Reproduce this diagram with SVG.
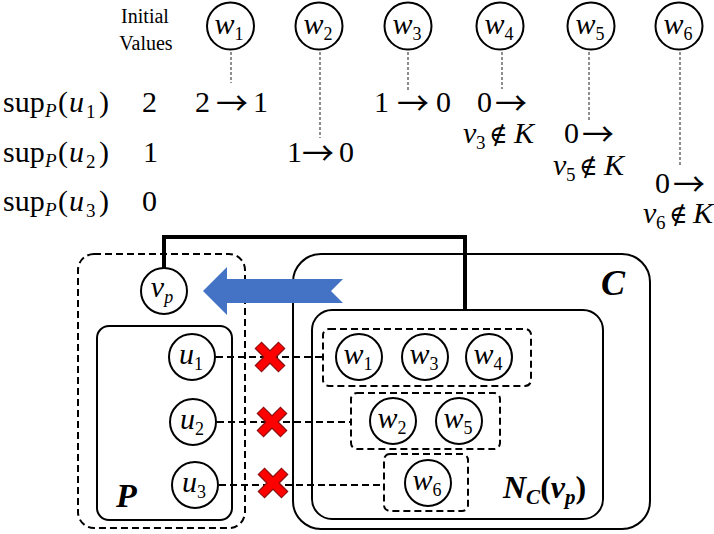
<svg xmlns="http://www.w3.org/2000/svg" width="714" height="534" viewBox="0 0 714 534">
<style>
.t{font-family:"Liberation Serif","DejaVu Serif",serif;fill:#000}
.i{font-style:italic}
.b{font-weight:bold}
.big{font-size:30px}
.sub{font-size:19px}
.ar{font-family:"Noto Sans CJK SC","Noto Sans CJK JP","DejaVu Sans",sans-serif;font-size:32px}
.nin{font-family:"DejaVu Serif",serif;font-size:25px}
.node{fill:#fff;stroke:#000;stroke-width:2}
.lbl{font-family:"Liberation Serif","DejaVu Serif",serif;font-style:italic;font-size:30px;text-anchor:middle}
.lsub{font-size:18px;font-style:normal}
.vdash{stroke:#444;stroke-width:1.2;stroke-dasharray:3,2;fill:none}
.hdash{stroke:#000;stroke-width:2;stroke-dasharray:7,4;fill:none}
.box{fill:none;stroke:#000;stroke-width:2}
.dbox{fill:none;stroke:#000;stroke-width:2;stroke-dasharray:7,4}
</style>

<!-- headers -->
<text class="t" x="145" y="23" font-size="20" text-anchor="middle" fill="#222">Initial</text>
<text class="t" x="146" y="50" font-size="20" text-anchor="middle" fill="#222">Values</text>

<!-- sup rows -->
<g id="row1">
<text class="t big" x="3" y="112">sup</text>
<text class="t sub i" x="45" y="117">P</text>
<text class="t big" x="58" y="112">(</text>
<text class="t big i" x="69" y="112">u</text>
<text class="t sub" x="86" y="118">1</text>
<text class="t big" x="99" y="112">)</text>
<text class="t big" x="142" y="112">2</text>
</g>
<g id="row2">
<text class="t big" x="3" y="162">sup</text>
<text class="t sub i" x="45" y="167">P</text>
<text class="t big" x="58" y="162">(</text>
<text class="t big i" x="69" y="162">u</text>
<text class="t sub" x="86" y="168">2</text>
<text class="t big" x="99" y="162">)</text>
<text class="t big" x="143" y="162">1</text>
</g>
<g id="row3">
<text class="t big" x="3" y="211">sup</text>
<text class="t sub i" x="45" y="216">P</text>
<text class="t big" x="58" y="211">(</text>
<text class="t big i" x="69" y="211">u</text>
<text class="t sub" x="86" y="217">3</text>
<text class="t big" x="99" y="211">)</text>
<text class="t big" x="142" y="211">0</text>
</g>

<!-- top circles -->
<g id="tw1"><circle class="node" cx="230.5" cy="26" r="23.5"/><text class="lbl" x="229" y="34">w<tspan class="lsub" dy="6">1</tspan></text></g>
<g id="tw2"><circle class="node" cx="319" cy="26" r="23.5"/><text class="lbl" x="318" y="34">w<tspan class="lsub" dy="6">2</tspan></text></g>
<g id="tw3"><circle class="node" cx="408" cy="26" r="23.5"/><text class="lbl" x="407" y="34">w<tspan class="lsub" dy="6">3</tspan></text></g>
<g id="tw4"><circle class="node" cx="500" cy="26" r="23.5"/><text class="lbl" x="499" y="34">w<tspan class="lsub" dy="6">4</tspan></text></g>
<g id="tw5"><circle class="node" cx="591" cy="26" r="23.5"/><text class="lbl" x="590" y="34">w<tspan class="lsub" dy="6">5</tspan></text></g>
<g id="tw6"><circle class="node" cx="679" cy="26" r="23.5"/><text class="lbl" x="678" y="34">w<tspan class="lsub" dy="6">6</tspan></text></g>

<g id="topconnectors">
<line class="vdash" x1="231" y1="52" x2="231" y2="83"/>
<line class="vdash" x1="320" y1="52" x2="320" y2="138"/>
<line class="vdash" x1="408" y1="52" x2="408" y2="90"/>
<line class="vdash" x1="502" y1="52" x2="502" y2="89"/>
<line class="vdash" x1="589" y1="52" x2="589" y2="122"/>
<line class="vdash" x1="680" y1="52" x2="680" y2="166"/>
</g>

<!-- transitions -->
<g id="t1"><text class="t big" y="112"><tspan x="195">2</tspan><tspan class="ar" x="216" dy="3">→</tspan><tspan x="253" dy="-3">1</tspan></text></g>
<g id="t2"><text class="t big" y="162"><tspan x="287">1</tspan><tspan class="ar" x="302" dy="3">→</tspan><tspan x="339" dy="-3">0</tspan></text></g>
<g id="t3"><text class="t big" y="112"><tspan x="374">1</tspan><tspan class="ar" x="397" dy="3">→</tspan><tspan x="436" dy="-3">0</tspan></text></g>
<g id="t4">
<text class="t big" y="112"><tspan x="477">0</tspan><tspan class="ar" x="495" dy="3">→</tspan></text>
<text class="t big" y="143"><tspan class="i" x="463">v</tspan><tspan class="sub" x="476" dy="6">3</tspan><tspan class="nin" x="489" dy="-6">∉</tspan><tspan class="i" x="514">K</tspan></text>
</g>
<g id="t5">
<text class="t big" y="143"><tspan x="564">0</tspan><tspan class="ar" x="582" dy="3">→</tspan></text>
<text class="t big" y="175"><tspan class="i" x="553">v</tspan><tspan class="sub" x="566" dy="6">5</tspan><tspan class="nin" x="579" dy="-6">∉</tspan><tspan class="i" x="604">K</tspan></text>
</g>
<g id="t6">
<text class="t big" y="193"><tspan x="655">0</tspan><tspan class="ar" x="673" dy="3">→</tspan></text>
<text class="t big" y="223"><tspan class="i" x="643">v</tspan><tspan class="sub" x="656" dy="6">6</tspan><tspan class="nin" x="669" dy="-6">∉</tspan><tspan class="i" x="693">K</tspan></text>
</g>

<!-- containers -->
<g id="Pgroup">
<rect class="dbox" x="78" y="254" width="167" height="274" rx="16"/>
</g>
<g id="Cbox">
<rect class="box" x="293" y="254" width="357" height="275" rx="28"/>
<text class="t b i" x="601" y="295" font-size="36">C</text>
</g>
<g id="NCbox">
<rect class="box" x="312" y="310" width="291" height="209" rx="20"/>
<text class="t b i" x="503" y="498" font-size="32">N<tspan font-size="21" dy="6">C</tspan><tspan dy="-6" font-style="normal">(</tspan>v<tspan font-size="21" dy="6">p</tspan><tspan dy="-6" font-style="normal">)</tspan></text>
</g>
<g id="Pbox">
<rect class="box" x="97" y="326" width="135" height="194" rx="12"/>
<text class="t b i" x="116" y="507" font-size="34">P</text>
</g>

<!-- connectors -->
<g id="connectors">
<path d="M164,268 V237 H465 V310" fill="none" stroke="#000" stroke-width="4"/>
<polygon points="203,291 227,267 227,279 343,279 331,291 343,303 227,303 227,315" fill="#4472C4"/>
<line class="hdash" x1="216" y1="357" x2="323" y2="357"/>
<line class="hdash" x1="217" y1="422" x2="351" y2="422"/>
<line class="hdash" x1="219" y1="485" x2="384" y2="485"/>
<g stroke="#8B1010" stroke-width="10">
<path d="M258,345 L282,369 M282,345 L258,369"/>
<path d="M260,410 L284,434 M284,410 L260,434"/>
<path d="M261,471 L285,495 M285,471 L261,495"/>
</g>
<g stroke="#FF0000" stroke-width="7.5">
<path d="M258.7,345.7 L281.3,368.3 M281.3,345.7 L258.7,368.3"/>
<path d="M260.7,410.7 L283.3,433.3 M283.3,410.7 L260.7,433.3"/>
<path d="M261.7,471.7 L284.3,494.3 M284.3,471.7 L261.7,494.3"/>
</g>
</g>

<!-- neighbor groups -->
<g id="grp1"><rect class="dbox" x="323" y="329" width="208" height="57" rx="6"/></g>
<g id="grp2"><rect class="dbox" x="351" y="393" width="149" height="56" rx="6"/></g>
<g id="grp3"><rect class="dbox" x="384" y="454" width="84" height="57" rx="6"/></g>

<!-- nodes -->
<g id="vp"><circle class="node" cx="164" cy="291" r="23"/><text class="lbl" x="162" y="297">v<tspan class="lsub" style="font-style:italic" dy="6">p</tspan></text></g>
<g id="u1"><circle class="node" cx="192" cy="357" r="23"/><text class="lbl" x="191" y="364">u<tspan class="lsub" dy="6">1</tspan></text></g>
<g id="u2"><circle class="node" cx="193" cy="422" r="23"/><text class="lbl" x="192" y="429">u<tspan class="lsub" dy="6">2</tspan></text></g>
<g id="u3"><circle class="node" cx="195" cy="485" r="23"/><text class="lbl" x="194" y="492">u<tspan class="lsub" dy="6">3</tspan></text></g>
<g id="bw1"><circle class="node" cx="359" cy="357" r="23"/><text class="lbl" x="358" y="364">w<tspan class="lsub" dy="6">1</tspan></text></g>
<g id="bw3"><circle class="node" cx="425" cy="357" r="23"/><text class="lbl" x="424" y="364">w<tspan class="lsub" dy="6">3</tspan></text></g>
<g id="bw4"><circle class="node" cx="489" cy="357" r="23"/><text class="lbl" x="488" y="364">w<tspan class="lsub" dy="6">4</tspan></text></g>
<g id="bw2"><circle class="node" cx="393" cy="421" r="23"/><text class="lbl" x="392" y="428">w<tspan class="lsub" dy="6">2</tspan></text></g>
<g id="bw5"><circle class="node" cx="459" cy="421" r="23"/><text class="lbl" x="458" y="428">w<tspan class="lsub" dy="6">5</tspan></text></g>
<g id="bw6"><circle class="node" cx="428" cy="483" r="23"/><text class="lbl" x="427" y="490">w<tspan class="lsub" dy="6">6</tspan></text></g>
</svg>
